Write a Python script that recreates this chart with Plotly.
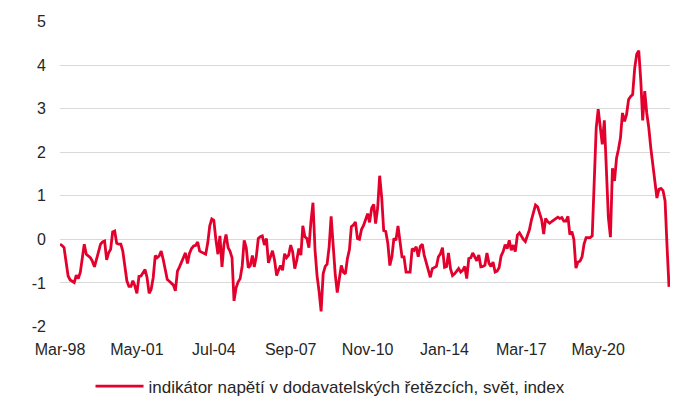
import pandas as pd
import plotly.graph_objects as go

# Monthly values, Mar-98 .. Apr-23
gscpi = [
    -0.11, -0.14, -0.19, -0.47, -0.84, -0.93, -0.96, -0.99, -0.82, -0.90, -0.75, -0.38,
    -0.11, -0.34, -0.37, -0.42, -0.50, -0.63, -0.46, -0.27, -0.11, -0.06, -0.04, -0.47,
    -0.31, -0.23, 0.17, 0.19, -0.09, -0.11, -0.11, -0.27, -0.69, -0.95, -1.08, -1.08,
    -0.95, -1.07, -1.24, -0.85, -0.84, -0.76, -0.69, -0.88, -1.24, -1.15, -0.88, -0.37,
    -0.42, -0.38, -0.27, -0.46,
    -0.69, -0.92, -0.96, -1.00, -1.05, -1.18, -0.73, -0.63, -0.53, -0.38, -0.31, -0.55,
    -0.32, -0.21, -0.15, -0.14, -0.06, -0.27, -0.29, -0.32, -0.34, -0.08, 0.31, 0.47,
    0.44, 0.00, -0.34, 0.08, -0.63, -0.11, 0.11, -0.19, -0.27, -0.42, -1.41, -1.11,
    -0.98, -0.90, -0.61, -0.02, -0.19, -0.65, -0.60, -0.37, -0.63,
    -0.40, 0.02, 0.06, 0.08, -0.13, 0.02, -0.54, -0.40, -0.26, -0.48, -0.83, -0.71,
    -0.60, -0.71, -0.33, -0.42, -0.36, -0.13, -0.29, -0.67, -0.48, -0.21, -0.36, 0.31,
    0.06, 0.02, -0.19, 0.41, 0.84, -0.25, -0.83, -1.20, -1.65, -0.79, -0.62, -0.57,
    -0.17, 0.53, -0.17, -0.79, -1.22, -0.85, -0.60, -0.75, -0.79, -0.44, -0.23, 0.29, 0.33,
    0.40, 0.02, 0.00, 0.23, 0.32, 0.45, 0.59, 0.39, 0.72, 0.80, 0.36, 0.72,
    1.46, 0.95, 0.20, 0.18, -0.09, -0.60, -0.40, 0.02, -0.02, 0.31, -0.02, -0.40,
    -0.40, -0.75, -0.75, -0.75, -0.21, -0.25, -0.17, -0.40, -0.16, -0.11, -0.36, -0.52,
    -0.71, -0.87, -0.67, -0.65, -0.62, -0.40, -0.33, -0.19, -0.64, -0.62, -0.31, -0.67,
    -0.83, -0.79, -0.73, -0.67, -0.75, -0.71, -0.62, -0.90, -0.44, -0.42, -0.31, -0.40,
    -0.49, -0.36, -0.63, -0.62, -0.59, -0.31, -0.55, -0.62, -0.52, -0.75, -0.73, -0.65,
    -0.38, -0.28, -0.12, -0.21, -0.02, -0.25, -0.13, -0.28, 0.10, 0.15, 0.06, 0.00,
    -0.05, 0.10, 0.22, 0.45, 0.62, 0.79, 0.75, 0.58, 0.45, 0.12, 0.48, 0.41,
    0.37, 0.41, 0.45, 0.49, 0.51, 0.48, 0.50, 0.42, 0.42, 0.53, 0.11, 0.18,
    0.00, -0.66, -0.52, -0.50, -0.40, -0.11, 0.04, 0.04, 0.04, 0.08, 1.49, 2.56,
    2.99, 2.56, 2.18, 2.73, 1.56, 0.50, 0.05, 1.63, 1.34, 1.87, 2.06, 2.33,
    2.90, 2.71, 2.86, 3.21, 3.28, 3.32, 3.93, 4.25, 4.33, 3.63, 2.73, 3.40,
    2.90, 2.56, 2.10, 1.68, 1.34, 0.95, 1.15, 1.17, 1.12, 0.88, -0.11, -1.09,
]
start_month = "1998-03-01"
series_name = "indikátor napětí v dodavatelských řetězcích, svět, index"
x_tick_dates = ["1998-03-01", "2001-05-01", "2004-07-01", "2007-09-01",
                "2010-11-01", "2014-01-01", "2017-03-01", "2020-05-01"]
x_tick_labels = ["Mar-98", "May-01", "Jul-04", "Sep-07", "Nov-10", "Jan-14", "Mar-17", "May-20"]
y_tick_vals = [-2, -1, 0, 1, 2, 3, 4, 5]
y_tick_labels = ["-2", "-1", "0", "1", "2", "3", "4", "5"]

dates = pd.date_range(start_month, periods=len(gscpi), freq="MS")
x_range = [dates[0], dates[-1] + pd.Timedelta(days=15)]
y_range = [-2.01, 5.01]

FONT = dict(family="Liberation Sans, Arial, sans-serif", size=16, color="#262626")
LEGEND_FONT = dict(family="Liberation Sans, Arial, sans-serif", size=17, color="#262626")
RED = "#E3002D"

fig = go.Figure()
fig.add_trace(go.Scatter(x=dates, y=gscpi, mode="lines", name=series_name,
                         line=dict(color=RED, width=2.8)))

# page body adds an 8px offset; margins compensate for it
fig.update_layout(
    width=684, height=405,
    margin=dict(l=52, r=22, t=13, b=86, autoexpand=False),
    paper_bgcolor="white", plot_bgcolor="white",
    font=FONT,
    showlegend=True,
    legend=dict(orientation="h", x=0.05, xanchor="left", y=-0.195, yanchor="middle",
                font=LEGEND_FONT, itemwidth=48, bgcolor="rgba(0,0,0,0)"),
    xaxis=dict(type="date", range=x_range, tickvals=x_tick_dates, ticktext=x_tick_labels,
               showgrid=False, zeroline=False, showline=False, ticks="",
               ticklabelstandoff=11, tickfont=FONT, automargin=False),
    xaxis2=dict(type="date", range=x_range, overlaying="x", anchor="free",
                position=(0 - y_range[0]) / (y_range[1] - y_range[0]),
                side="bottom", tickvals=x_tick_dates, showticklabels=False,
                showgrid=False, zeroline=False, showline=True, linecolor="#404040",
                linewidth=1, ticks="outside", ticklen=5, tickcolor="#404040", tickwidth=1),
    yaxis=dict(range=y_range, tickvals=y_tick_vals, ticktext=y_tick_labels,
               showgrid=True, gridcolor="#D9D9D9", gridwidth=1, zeroline=False,
               showline=False, ticks="", ticklabelstandoff=13, tickfont=FONT,
               automargin=False),
)

fig.write_html("out.html")
